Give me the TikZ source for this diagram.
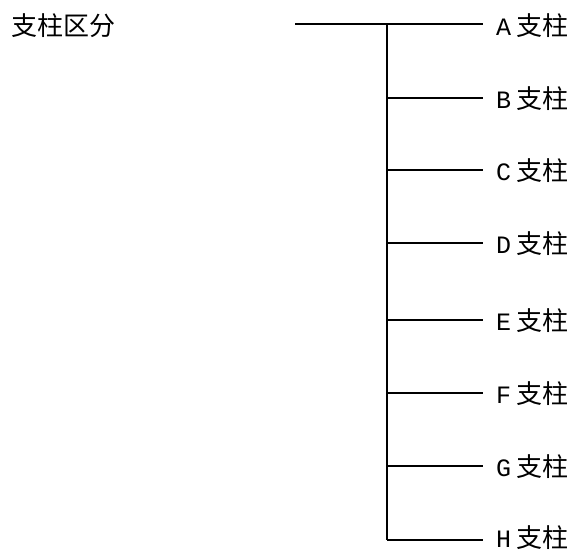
\documentclass[tikz,border=0pt]{standalone}
\usepackage{fontspec}
\setmainfont{Noto Sans CJK SC}
\newfontfamily\latinmono{Liberation Mono}
\begin{document}
\begin{tikzpicture}[x=1pt,y=-1pt,
  wire/.style={line width=1.8pt,black},
  lab/.style={anchor=base west,inner sep=0pt,text depth=0pt,font=\fontsize{26}{28}\selectfont},
  head/.style={anchor=base west,inner sep=0pt,font=\fontsize{26}{28}\selectfont}]
\useasboundingbox (0,0) rectangle (576,552);
\node[head] (root) at (11,35) {支柱区分};
\coordinate (s) at (295,24);
\coordinate (j) at (387,24);
\foreach \n/\y/\t in {A/24/35,B/98/108,C/170/180,D/243/253,E/320/330,F/393/403,G/466/476,H/540/547}{
  \coordinate (b\n) at (387,\y);
  \coordinate (e\n) at (483,\y);
  \node[lab] (l\n) at (496,\t) {{\latinmono\fontsize{25}{27}\selectfont\n}\hspace{5pt}支柱};
}
\draw[wire] (s) -- (eA);
\draw[wire] (j) -- (bH);
\foreach \n in {B,C,D,E,F,G,H}{\draw[wire] (b\n) -- (e\n);}
\end{tikzpicture}
\end{document}
